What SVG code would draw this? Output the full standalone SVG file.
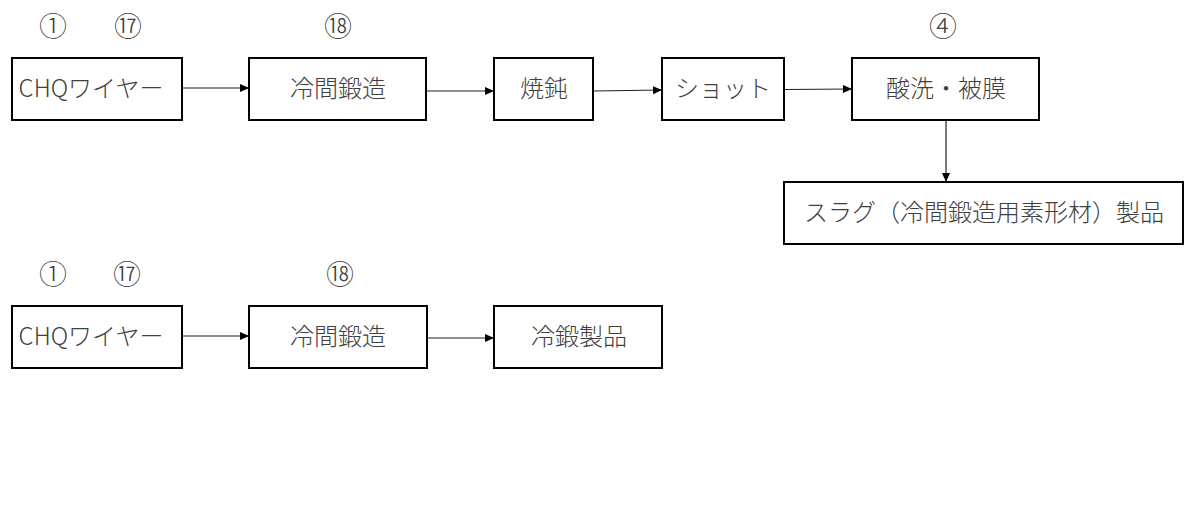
<svg xmlns="http://www.w3.org/2000/svg" width="1200" height="507" viewBox="0 0 1200 507">
<style>
.box{fill:#fff;stroke:#000;stroke-width:2}
.t{font-family:"Noto Sans CJK JP","Noto Sans",sans-serif;font-size:24px;font-weight:300;fill:#404040;text-anchor:middle}
.n{font-family:"Noto Sans CJK JP","Noto Sans",sans-serif;font-size:28px;font-weight:300;fill:#404040;text-anchor:middle}
.c{stroke:#202020;stroke-width:1.2;fill:none;marker-end:url(#ah)}
</style>
<defs>
<marker id="ah" markerUnits="userSpaceOnUse" markerWidth="10" markerHeight="10" refX="9" refY="5" orient="auto">
<path d="M0,1 L9,5 L0,9 Z" fill="#000"/>
</marker>
</defs>
<rect width="1200" height="507" fill="#fff"/>
<g id="labels">
<text class="n" x="53" y="37">①</text>
<text class="n" x="128" y="37">⑰</text>
<text class="n" x="338" y="37">⑱</text>
<text class="n" x="943" y="37">④</text>
<text class="n" x="53" y="285">①</text>
<text class="n" x="127" y="285">⑰</text>
<text class="n" x="340" y="285">⑱</text>
</g>
<g id="connectors">
<line class="c" x1="182" y1="88" x2="249" y2="88"/>
<line class="c" x1="427" y1="91" x2="494" y2="91"/>
<line class="c" x1="594" y1="91" x2="662" y2="90"/>
<line class="c" x1="785" y1="89.5" x2="852" y2="89"/>
<line class="c" x1="946" y1="121" x2="946" y2="182"/>
<line class="c" x1="182" y1="336" x2="249" y2="336"/>
<line class="c" x1="428" y1="338" x2="494" y2="338"/>
</g>
<g id="n1"><rect class="box" x="12" y="58" width="170" height="62"/><text class="t" x="91" y="97">CHQワイヤー</text></g>
<g id="n2"><rect class="box" x="249" y="58" width="177" height="62"/><text class="t" x="338" y="97">冷間鍛造</text></g>
<g id="n3"><rect class="box" x="494" y="58" width="99" height="62"/><text class="t" x="544" y="97">焼鈍</text></g>
<g id="n4"><rect class="box" x="662" y="58" width="122" height="62"/><text class="t" x="723" y="97">ショット</text></g>
<g id="n5"><rect class="box" x="852" y="58" width="187" height="62"/><text class="t" x="946" y="97">酸洗・被膜</text></g>
<g id="n6"><rect class="box" x="784" y="182" width="399" height="62"/><text class="t" x="984" y="221">スラグ（冷間鍛造用素形材）製品</text></g>
<g id="m1"><rect class="box" x="12" y="306" width="170" height="62"/><text class="t" x="91" y="345">CHQワイヤー</text></g>
<g id="m2"><rect class="box" x="249" y="306" width="178" height="62"/><text class="t" x="338" y="345">冷間鍛造</text></g>
<g id="m3"><rect class="box" x="494" y="306" width="168" height="62"/><text class="t" x="579" y="345">冷鍛製品</text></g>
</svg>
